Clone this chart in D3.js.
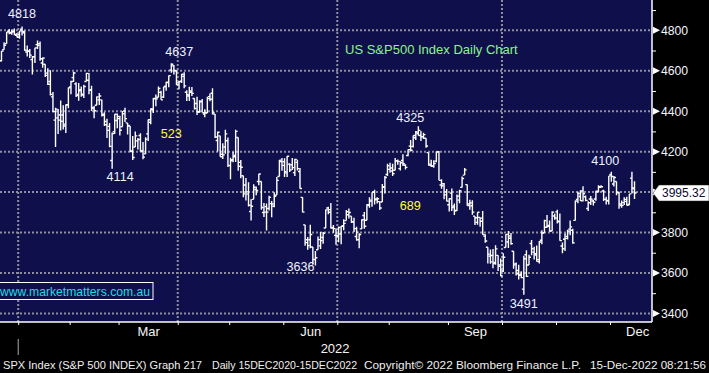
<!DOCTYPE html>
<html>
<head>
<meta charset="utf-8">
<script src="https://cdn.jsdelivr.net/npm/d3@7"></script>
<style>
  body { margin: 0; background: #000; }
  svg { display: block; }
  text { font-family: "Liberation Sans", Arial, sans-serif; }
</style>
</head>
<body>
<svg id="chart" width="709" height="373"></svg>
<script>
// SPX daily bars, 20 Dec 2021 .. 14 Dec 2022 (one line per month)
var opens = [
  4588,4595,4650,4704,4734,4795,4789,4794,4775,
  4778,4805,4788,4693,4698,4655,4669,4729,4734,4638,4632,4588,4547,4471,4356,4367,4381,4381,4336,4432,
  4520,4566,4535,4483,4506,4480,4547,4553,4506,4413,4429,4456,4456,4385,4333,4325,4156,4298,4354,
  4363,4323,4401,4342,4327,4203,4223,4253,4280,4203,4189,4288,4345,4407,4462,4469,4493,4470,4523,4541,4603,4624,4599,
  4540,4548,4572,4494,4475,4494,4463,4438,4394,4449,4386,4391,4472,4489,4386,4255,4278,4187,4223,4254,
  4131,4160,4181,4270,4128,4081,4035,3990,3904,3964,4013,4052,4052,3899,3928,3919,3943,3930,3985,4077,4151,
  4150,4095,4138,4135,4096,4147,4102,3974,3838,3764,3764,3728,3666,3715,3734,3775,3822,3921,3913,3825,3786,
  3781,3793,3832,3859,3888,3881,3852,3780,3764,3818,3884,3861,3935,3955,4000,3966,3953,3951,4026,4087,
  4112,4104,4108,4155,4116,4156,4133,4181,4227,4225,4269,4290,4280,4273,4266,4195,4133,4127,4153,4199,4035,4041,4001,
  3937,3995,3931,3909,3960,4023,4084,4037,3941,3932,3881,3850,3875,3871,3782,3727,3683,3686,3652,3687,3633,
  3610,3726,3753,3772,3707,3645,3596,3591,3520,3690,3639,3746,3703,3689,3657,3762,3799,3826,3835,3808,3882,
  3902,3853,3733,3767,3781,3817,3811,3860,3964,3978,4006,3977,3919,3966,3956,3966,4000,4023,4005,3964,3957,
  4087,4040,4052,3997,3933,3948,3954,3939,4069,4016
];
var highs = [
  4588,4651,4698,4741,4791,4807,4804,4809,4787,
  4797,4819,4798,4725,4708,4673,4714,4749,4744,4665,4632,4612,4602,4495,4417,4411,4453,4429,4433,4517,
  4550,4595,4543,4540,4522,4531,4590,4589,4526,4426,4473,4490,4456,4395,4362,4342,4295,4385,4389,
  4378,4401,4417,4342,4327,4277,4299,4268,4291,4248,4271,4359,4413,4465,4482,4522,4501,4521,4546,4576,4637,4628,4603,
  4549,4584,4593,4504,4521,4520,4464,4471,4454,4460,4410,4471,4488,4513,4386,4299,4278,4241,4308,4270,
  4170,4200,4308,4270,4158,4081,4069,4049,3965,4039,4027,4091,4052,3946,3943,3982,3956,3999,4075,4158,4168,
  4167,4178,4143,4169,4165,4160,4119,3974,3838,3778,3838,3728,3708,3780,3802,3803,3914,3928,3946,3837,3819,
  3830,3832,3865,3911,3919,3881,3873,3829,3796,3864,3902,3940,3974,3999,4012,3975,3953,4040,4079,4140,
  4145,4140,4168,4161,4152,4187,4137,4211,4258,4280,4302,4325,4302,4293,4266,4195,4160,4157,4201,4203,4063,4045,4015,
  3970,4018,3943,3988,4011,4077,4119,4037,3962,3959,3881,3900,3876,3907,3791,3727,3716,3718,3737,3687,3671,
  3698,3792,3807,3798,3707,3652,3641,3608,3685,3712,3690,3763,3729,3736,3758,3811,3863,3886,3860,3905,3894,
  3912,3894,3751,3796,3814,3859,3818,3958,4001,4009,4029,3983,3954,3980,3962,4006,4034,4034,4012,3977,4080,
  4101,4080,4052,4002,3958,3974,3977,3991,4101,4054
];
var lows = [
  4531,4583,4646,4704,4734,4780,4778,4775,4766,
  4758,4774,4699,4671,4663,4582,4638,4707,4650,4615,4569,4530,4478,4395,4223,4287,4305,4310,4292,4414,
  4484,4544,4470,4452,4471,4465,4547,4484,4401,4365,4429,4430,4374,4327,4267,4222,4115,4287,4315,
  4280,4323,4346,4285,4200,4158,4223,4210,4200,4162,4188,4252,4336,4391,4424,4469,4456,4465,4501,4518,4590,4581,4530,
  4508,4539,4514,4450,4450,4475,4408,4381,4393,4395,4370,4391,4449,4384,4268,4201,4175,4163,4189,4124,
  4063,4147,4149,4106,4068,3975,3958,3929,3859,3964,3984,4034,3912,3877,3810,3909,3875,3925,3985,4077,4105,
  4074,4074,4099,4109,4080,4107,4017,3900,3734,3715,3722,3640,3637,3715,3718,3744,3822,3890,3820,3799,3739,
  3752,3742,3811,3859,3869,3847,3802,3759,3722,3817,3819,3861,3922,3928,3939,3943,3911,3951,3993,4079,
  4096,4080,4108,4135,4107,4129,4112,4177,4201,4220,4257,4278,4253,4262,4219,4130,4124,4120,4148,4058,4017,3965,3955,
  3904,3906,3887,3906,3945,4023,4084,3932,3913,3888,3837,3839,3828,3789,3749,3647,3645,3623,3641,3610,3584,
  3605,3726,3723,3739,3621,3588,3568,3574,3492,3580,3639,3687,3667,3656,3647,3742,3799,3824,3804,3808,3863,
  3844,3759,3698,3709,3765,3786,3744,3860,3945,3956,3953,3954,3907,3936,3933,3957,3999,4021,3956,3938,3939,
  4051,4027,3984,3918,3923,3936,3933,3935,3993,3966
];
var closes = [
  4568,4649,4697,4726,4791,4786,4793,4779,4766,
  4797,4794,4701,4696,4677,4670,4713,4726,4659,4663,4577,4533,4483,4398,4410,4356,4350,4327,4432,4516,
  4547,4589,4477,4501,4484,4522,4587,4504,4419,4402,4471,4475,4380,4349,4305,4226,4289,4385,4374,
  4306,4387,4363,4329,4201,4171,4278,4260,4204,4173,4262,4358,4412,4463,4461,4512,4456,4520,4543,4576,4632,4602,4530,
  4546,4583,4525,4481,4500,4488,4413,4397,4447,4393,4392,4462,4459,4394,4272,4296,4175,4184,4288,4132,
  4155,4175,4300,4147,4123,3991,4001,3935,3930,4024,4008,4089,3924,3901,3901,3974,3941,3979,4058,4158,4132,
  4101,4177,4109,4121,4161,4116,4018,3901,3750,3735,3790,3667,3675,3765,3760,3796,3912,3900,3822,3819,3785,
  3825,3831,3845,3903,3899,3854,3819,3802,3790,3863,3831,3937,3960,3999,3962,3967,3921,4024,4072,4130,
  4119,4091,4155,4152,4145,4140,4122,4210,4207,4280,4297,4305,4274,4284,4228,4138,4129,4141,4199,4058,4031,3986,3955,
  3967,3924,3908,3980,4006,4067,4110,3933,3946,3901,3873,3900,3856,3790,3758,3693,3655,3647,3719,3640,3586,
  3678,3791,3783,3745,3640,3612,3589,3577,3670,3583,3678,3720,3695,3666,3753,3797,3859,3831,3807,3901,3872,
  3856,3760,3720,3771,3807,3828,3749,3956,3993,3957,3992,3959,3947,3965,3950,4004,4027,4026,3964,3958,4080,
  4077,4072,3999,3941,3934,3964,3934,3991,4020,3995.32
];

// calendar: trading days before 2022 in the data, and per month of 2022
var lateDec2021Days = 9;
var monthDays = [20, 19, 23, 20, 21, 21, 20, 23, 21, 21, 21, 21];
var monthNames = ["Jan","Feb","Mar","Apr","May","Jun","Jul","Aug","Sep","Oct","Nov","Dec"];
var labelledMonths = ["Mar", "Jun", "Sep", "Dec"];
var gridMonths = ["Jan", "Apr", "Jul", "Oct"];
var yearLabel = "2022";

var yMajor = [3400, 3600, 3800, 4000, 4200, 4400, 4600, 4800];
var yMinor = [3500, 3700, 3900, 4100, 4300, 4500, 4700, 4900];

// swing points marked on the chart
var swingLabels = [
  {text: "4818", kind: "high"}, {text: "4114", kind: "low"},
  {text: "4637", kind: "high"}, {text: "3636", kind: "low"},
  {text: "4325", kind: "high"}, {text: "3491", kind: "low"},
  {text: "4100", kind: "high"}
];
var moveLabels = [{text: "523", at: "4637"}, {text: "689", at: "4325"}];

var title = "US S&P500 Index Daily Chart";
var watermark = "www.marketmatters.com.au";
var footer = ["SPX Index (S&P 500 INDEX) Graph 217", "Daily 15DEC2020-15DEC2022",
              "Copyright\u00a9 2022 Bloomberg Finance L.P.", "15-Dec-2022 08:21:56"];

function drawChart() {
    const W = 652, H = 322;
    const svg = d3.select("#chart");
    const navy = "#0f0f4b";

    const last = closes.length - 1;
    const xScale = d3.scaleLinear().domain([lateDec2021Days, last]).range([19.5, 634.5]);
    const yScale = d3.scaleLinear().domain([3400, 4800]).range([313.4, 30.3]);
    const yl = yScale(closes[last]);

    // first index of each month in the data, and the boundary just before it
    const starts = d3.cumsum([lateDec2021Days].concat(monthDays));
    const bound = m => starts[m] - 0.5;

    svg.append("rect").attr("width", 709).attr("height", 373).attr("fill", "#000");
    svg.append("rect").attr("width", W).attr("height", H).attr("fill", navy);
    svg.append("clipPath").attr("id", "plot")
        .append("rect").attr("width", W).attr("height", H);

    // dotted grid
    const grid = svg.append("g")
        .attr("stroke", "#8e8e9c").attr("stroke-width", 2).attr("stroke-dasharray", "2,2");
    grid.selectAll("line.h").data(yMajor).enter().append("line")
        .attr("x1", 0).attr("x2", W)
        .attr("y1", d => yScale(d)).attr("y2", d => yScale(d));
    grid.selectAll("line.v").data(gridMonths).enter().append("line")
        .attr("y1", 0).attr("y2", H)
        .attr("x1", d => xScale(bound(monthNames.indexOf(d))))
        .attr("x2", d => xScale(bound(monthNames.indexOf(d))));

    // OHLC bars
    const bars = svg.append("g").attr("clip-path", "url(#plot)")
        .attr("stroke", "#fff").attr("stroke-width", 1.4).attr("fill", "none");
    bars.selectAll("path").data(d3.range(closes.length)).enter().append("path")
        .attr("d", i => {
            const x = xScale(i);
            return `M${x},${yScale(highs[i])}V${yScale(lows[i])}` +
                   `M${x - 2},${yScale(opens[i])}H${x}` +
                   `M${x},${yScale(closes[i])}H${x + 2}`;
        });

    // right price axis (the label under the last-price tag is covered, as on the terminal)
    const axisR = svg.append("g").attr("transform", `translate(${W},0)`);
    const minorAxis = d3.axisRight(yScale).tickValues(yMinor).tickSize(4).tickFormat("");
    axisR.call(minorAxis);
    const majorAxis = d3.axisRight(yScale).tickValues(yMajor).tickSize(0).tickPadding(9)
        .tickFormat(d => Math.abs(yScale(d) - yl) < 12 ? "" : d3.format("d")(d));
    axisR.append("g").call(majorAxis);
    axisR.selectAll(".domain").remove();
    axisR.selectAll("line").attr("stroke", "#fff");
    axisR.selectAll("text").attr("fill", "#f2f4ff").attr("font-size", 12.2)
        .attr("font-family", "'Liberation Sans', Arial, sans-serif");
    axisR.selectAll("path.arrow").data(yMajor).enter().append("path")
        .attr("d", d => `M1,${yScale(d) - 3.5}L8,${yScale(d)}L1,${yScale(d) + 3.5}Z`)
        .attr("fill", "#fff");
    axisR.append("line").attr("x1", 0).attr("x2", 0).attr("y1", 0).attr("y2", H)
        .attr("stroke", "#fff").attr("stroke-width", 1.5);

    // last price tag
    svg.append("path")
        .attr("d", `M${W + 1},${yl}L${W + 7},${yl - 8}H709V${yl + 8}H${W + 7}Z`)
        .attr("fill", "#fff").attr("stroke", "#222").attr("stroke-width", 0.5);
    svg.append("text").attr("x", W + 10).attr("y", yl).attr("dy", "0.36em")
        .attr("font-size", 12).attr("fill", "#0a0a30").text(d3.format(".2f")(closes[last]));

    // bottom time axis
    const axisB = svg.append("g").attr("transform", `translate(0,${H})`);
    const monthAxis = d3.axisBottom(xScale).tickValues(d3.range(12).map(bound))
        .tickSize(3).tickFormat("");
    axisB.call(monthAxis);
    axisB.selectAll(".domain").remove();
    axisB.selectAll("line").attr("stroke", "#fff");
    axisB.append("line").attr("x1", 0).attr("x2", W).attr("stroke", "#fff").attr("stroke-width", 1.5);

    const midMonth = n => {
        const m = monthNames.indexOf(n);
        return bound(m) + monthDays[m] / 2;
    };
    const qAxis = d3.axisBottom(xScale)
        .tickValues(labelledMonths.map(midMonth))
        .tickSize(0).tickPadding(5)
        .tickFormat(v => labelledMonths.find(n => Math.abs(midMonth(n) - v) < 0.01));
    const qg = axisB.append("g").call(qAxis);
    qg.select(".domain").remove();
    qg.selectAll("text").attr("fill", "#f4f4f4").attr("font-size", 13)
        .attr("font-family", "'Liberation Sans', Arial, sans-serif");

    const yearX = xScale(bound(0));
    svg.append("line").attr("x1", yearX).attr("x2", yearX).attr("y1", 339).attr("y2", 355)
        .attr("stroke", "#aaa");
    svg.append("text").attr("x", (yearX + W) / 2).attr("y", 353).attr("text-anchor", "middle")
        .attr("font-size", 13).attr("fill", "#f4f4f4").text(yearLabel);

    // swing labels
    const nudge = {
        "4818": [0, -8], "4114": [8, 12.5], "4637": [8, -7], "3636": [-15, 6],
        "4325": [-8, -4], "3491": [0, 13], "4100": [-6, -7]
    };
    const swingIndex = s => {
        const arr = s.kind === "high" ? highs : lows;
        return arr.findIndex(v => Math.abs(v - +s.text) <= 1.5);
    };
    swingLabels.forEach(s => {
        const i = swingIndex(s);
        const v = (s.kind === "high" ? highs : lows)[i];
        svg.append("text")
            .attr("x", xScale(i) + nudge[s.text][0])
            .attr("y", yScale(v) + nudge[s.text][1])
            .attr("text-anchor", "middle").attr("font-size", 12.6).attr("fill", "#eef2ff")
            .text(s.text);
    });
    const moveNudge = {"523": [0, 75], "689": [-8, 84]};
    moveLabels.forEach(m => {
        const i = swingIndex(swingLabels.find(s => s.text === m.at));
        svg.append("text")
            .attr("x", xScale(i) + moveNudge[m.text][0])
            .attr("y", yScale(highs[i]) + moveNudge[m.text][1])
            .attr("text-anchor", "middle").attr("font-size", 12.6).attr("fill", "#ffff33")
            .text(m.text);
    });

    // title and watermark
    svg.append("text").attr("x", 345).attr("y", 53.5).attr("font-size", 13)
        .attr("fill", "#8ef28e").text(title);
    svg.append("rect").attr("x", -1).attr("y", 282.5).attr("width", 154).attr("height", 17)
        .attr("fill", navy).attr("stroke", "#fff");
    svg.append("text").attr("x", 0).attr("y", 295.5).attr("font-size", 13)
        .attr("textLength", 150).attr("lengthAdjust", "spacingAndGlyphs")
        .attr("fill", "#1fdce4").text(watermark);

    // footer
    const footX = [3, 212, 364, 590], footW = [199, 145, 217, 116];
    svg.selectAll("text.foot").data(footer).enter().append("text")
        .attr("class", "foot")
        .attr("x", (d, i) => footX[i]).attr("y", 369)
        .attr("textLength", (d, i) => footW[i]).attr("lengthAdjust", "spacingAndGlyphs")
        .attr("font-family", "'DejaVu Sans', sans-serif").attr("font-size", 11)
        .attr("fill", "#f0f0f0").text(d => d);
}

drawChart();
</script>
</body>
</html>
